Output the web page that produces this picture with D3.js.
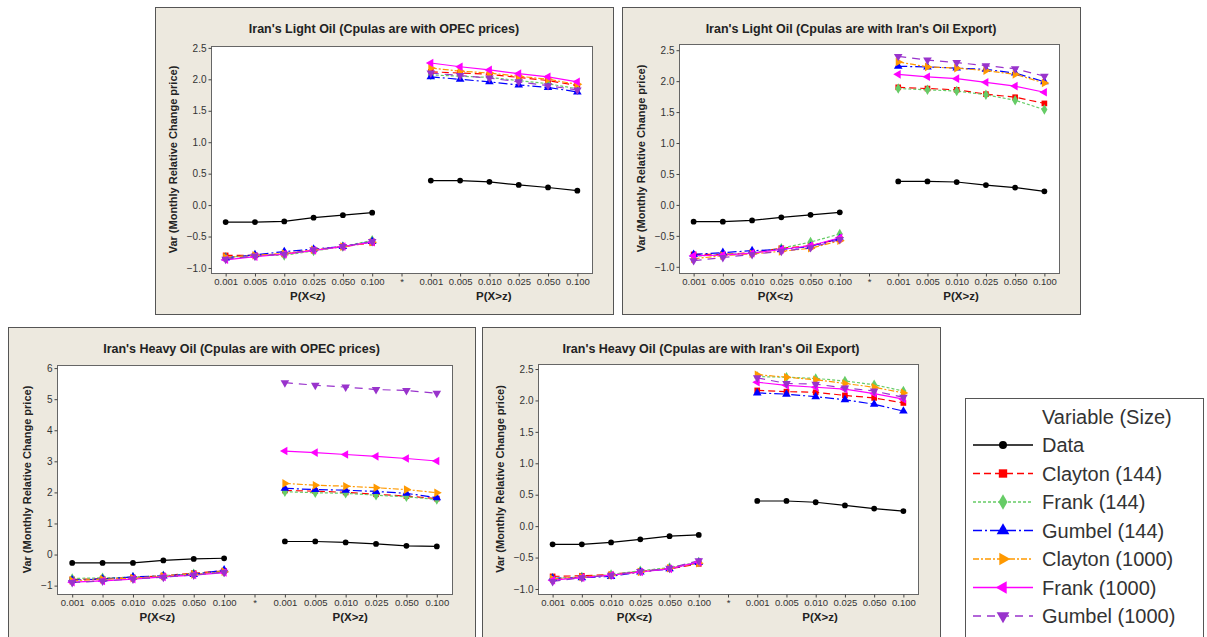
<!DOCTYPE html>
<html>
<head>
<meta charset="utf-8">
<script src="https://cdn.jsdelivr.net/npm/d3@7"></script>
<style>
body { margin: 0; background: #fff; }
svg { display: block; font-family: "Liberation Sans", Arial, sans-serif; }
</style>
</head>
<body>
<svg width="1207" height="637"></svg>
<script>
var seriesNames = ["Data", "Clayton (144)", "Frank (144)", "Gumbel (144)", "Clayton (1000)", "Frank (1000)", "Gumbel (1000)"];
var seriesColors = ["#000000", "#ff0000", "#66cc66", "#0000ff", "#ff9900", "#ff00ff", "#9933cc"];
var seriesDash = [null, "7,4", "3,2", "9,3,2,3", "6,2,2,2", null, "8,6"];
var seriesShape = ["circle", "square", "diamond", "up", "right", "left", "down"];

// 13 slots: P(X<z) levels, the "*" gap, then P(X>z) levels
var xTicks = ["0.001", "0.005", "0.010", "0.025", "0.050", "0.100", "*", "0.001", "0.005", "0.010", "0.025", "0.050", "0.100"];

// one row per series (same order as seriesNames), null at the "*" slot
var lightOpec = [
  [-0.27, -0.27, -0.26, -0.20, -0.16, -0.12, null, 0.39, 0.39, 0.37, 0.32, 0.28, 0.23],
  [-0.80, -0.80, -0.78, -0.72, -0.66, -0.60, null, 2.12, 2.10, 2.08, 2.03, 1.98, 1.90],
  [-0.83, -0.80, -0.80, -0.73, -0.66, -0.56, null, 2.07, 2.05, 2.03, 1.98, 1.93, 1.85],
  [-0.84, -0.79, -0.74, -0.70, -0.66, -0.58, null, 2.04, 2.00, 1.96, 1.91, 1.87, 1.80],
  [-0.83, -0.80, -0.77, -0.71, -0.66, -0.59, null, 2.18, 2.13, 2.10, 2.05, 2.00, 1.92],
  [-0.87, -0.82, -0.78, -0.72, -0.66, -0.59, null, 2.26, 2.20, 2.15, 2.09, 2.04, 1.96],
  [-0.86, -0.81, -0.78, -0.71, -0.66, -0.58, null, 2.10, 2.06, 2.02, 1.96, 1.90, 1.83]
];
var lightExport = [
  [-0.27, -0.27, -0.25, -0.20, -0.16, -0.12, null, 0.38, 0.38, 0.37, 0.32, 0.28, 0.22],
  [-0.80, -0.80, -0.77, -0.70, -0.66, -0.55, null, 1.90, 1.88, 1.86, 1.79, 1.74, 1.64],
  [-0.83, -0.80, -0.78, -0.70, -0.60, -0.47, null, 1.88, 1.86, 1.84, 1.78, 1.69, 1.54],
  [-0.80, -0.77, -0.74, -0.72, -0.67, -0.54, null, 2.24, 2.23, 2.21, 2.19, 2.13, 1.99],
  [-0.87, -0.82, -0.79, -0.75, -0.70, -0.58, null, 2.31, 2.23, 2.21, 2.17, 2.11, 1.97],
  [-0.82, -0.81, -0.78, -0.72, -0.66, -0.53, null, 2.11, 2.07, 2.04, 1.98, 1.92, 1.82],
  [-0.90, -0.85, -0.80, -0.75, -0.69, -0.56, null, 2.40, 2.34, 2.30, 2.25, 2.20, 2.08]
];
var heavyOpec = [
  [-0.27, -0.27, -0.27, -0.19, -0.14, -0.12, null, 0.42, 0.42, 0.39, 0.34, 0.28, 0.26],
  [-0.80, -0.78, -0.74, -0.68, -0.60, -0.53, null, 2.06, 2.04, 2.00, 1.94, 1.88, 1.80],
  [-0.77, -0.75, -0.73, -0.68, -0.62, -0.55, null, 2.02, 1.99, 1.97, 1.91, 1.86, 1.77],
  [-0.82, -0.79, -0.72, -0.69, -0.64, -0.50, null, 2.13, 2.09, 2.07, 2.03, 1.97, 1.83],
  [-0.84, -0.80, -0.76, -0.70, -0.64, -0.55, null, 2.29, 2.23, 2.20, 2.15, 2.09, 1.99],
  [-0.89, -0.85, -0.79, -0.72, -0.66, -0.58, null, 3.33, 3.28, 3.22, 3.16, 3.09, 3.01],
  [-0.90, -0.85, -0.79, -0.73, -0.66, -0.57, null, 5.53, 5.45, 5.39, 5.31, 5.28, 5.19]
];
var heavyExport = [
  [-0.29, -0.29, -0.26, -0.21, -0.16, -0.14, null, 0.40, 0.40, 0.38, 0.33, 0.28, 0.24],
  [-0.80, -0.79, -0.77, -0.72, -0.68, -0.60, null, 2.16, 2.14, 2.13, 2.08, 2.04, 1.96],
  [-0.83, -0.81, -0.77, -0.71, -0.66, -0.57, null, 2.38, 2.37, 2.35, 2.31, 2.25, 2.15],
  [-0.83, -0.82, -0.80, -0.73, -0.68, -0.58, null, 2.12, 2.10, 2.06, 2.01, 1.94, 1.83],
  [-0.84, -0.81, -0.78, -0.73, -0.67, -0.59, null, 2.41, 2.37, 2.33, 2.27, 2.21, 2.12],
  [-0.86, -0.82, -0.78, -0.73, -0.68, -0.57, null, 2.29, 2.24, 2.21, 2.18, 2.11, 2.02],
  [-0.88, -0.82, -0.78, -0.72, -0.67, -0.55, null, 2.36, 2.27, 2.26, 2.20, 2.15, 2.05]
];

var halfTicks = [-1, -0.5, 0, 0.5, 1, 1.5, 2, 2.5];
var unitTicks = [-1, 0, 1, 2, 3, 4, 5, 6];

// box runs past the page bottom for the lower panels (they are cut off there)
var panels = [
  {title: "Iran's Light Oil (Cpulas are with OPEC prices)", data: lightOpec,
   box: [155, 7, 613, 314], plot: [211, 46, 592, 273], dom: [-1.08, 2.53], ticks: halfTicks, fmt: ".1f", yt: 38},
  {title: "Iran's Light Oil (Cpulas are with Iran's Oil Export)", data: lightExport,
   box: [622, 7, 1080, 314], plot: [679, 44, 1059, 273], dom: [-1.10, 2.60], ticks: halfTicks, fmt: ".1f", yt: 38},
  {title: "Iran's Heavy Oil (Cpulas are with OPEC prices)", data: heavyOpec,
   box: [8, 327, 475, 645], plot: [57, 365, 452, 594], dom: [-1.27, 6.10], ticks: unitTicks, fmt: "d", yt: 30},
  {title: "Iran's Heavy Oil (Cpulas are with Iran's Oil Export)", data: heavyExport,
   box: [482, 327, 940, 645], plot: [538, 364, 918, 594], dom: [-1.08, 2.58], ticks: halfTicks, fmt: ".1f", yt: 38}
];

var svg = d3.select("svg");

function shapePath(shape, size) {
  var type = {circle: d3.symbolCircle, square: d3.symbolSquare, diamond: d3.symbolDiamond}[shape] || d3.symbolTriangle;
  return d3.symbol().type(type).size(size)();
}
function shapeRotate(shape) {
  return {right: 90, left: -90, down: 180}[shape] || 0;
}

panels.forEach(function(p) {
  var g = svg.append("g");
  var b = p.box;
  g.append("rect")
    .attr("x", b[0] + 0.5).attr("y", b[1] + 0.5)
    .attr("width", b[2] - b[0]).attr("height", b[3] - b[1])
    .attr("fill", "#ede9df").attr("stroke", "#555");

  var x = d3.scalePoint()
    .domain(d3.range(xTicks.length))
    .range([p.plot[0], p.plot[2]])
    .padding(0.5);
  var y = d3.scaleLinear()
    .domain(p.dom)
    .range([p.plot[3], p.plot[1]]);

  g.append("rect")
    .attr("x", p.plot[0] + 0.5).attr("y", p.plot[1] + 0.5)
    .attr("width", p.plot[2] - p.plot[0]).attr("height", p.plot[3] - p.plot[1])
    .attr("fill", "#fff").attr("stroke", "#666");

  var xAxis = d3.axisBottom(x).tickSize(3).tickPadding(2)
    .tickFormat(function(i) { return xTicks[i]; });
  var yAxis = d3.axisLeft(y).tickValues(p.ticks).tickSize(3).tickPadding(2)
    .tickFormat(d3.format(p.fmt));

  g.append("g")
    .attr("transform", "translate(0," + (p.plot[3] + 0.5) + ")")
    .call(xAxis)
    .call(function(a) {
      a.select(".domain").remove();
      a.selectAll(".tick line").attr("stroke", "#444");
      a.selectAll(".tick text").attr("font-size", 9.5).attr("fill", "#333")
        .attr("font-family", "Liberation Sans, Arial, sans-serif");
    });
  g.append("g")
    .attr("transform", "translate(" + (p.plot[0] + 0.5) + ",0)")
    .call(yAxis)
    .call(function(a) {
      a.select(".domain").remove();
      a.selectAll(".tick line").attr("stroke", "#444");
      a.selectAll(".tick text").attr("font-size", 10).attr("fill", "#333")
        .attr("font-family", "Liberation Sans, Arial, sans-serif");
    });

  g.append("text")
    .attr("x", (b[0] + b[2]) / 2).attr("y", b[1] + 26)
    .attr("text-anchor", "middle").attr("font-weight", "bold").attr("font-size", 12.5)
    .attr("fill", "#222")
    .text(p.title);

  g.append("text")
    .attr("x", x(0) + (x(1) - x(0)) * 2.8).attr("y", p.plot[3] + 27)
    .attr("text-anchor", "middle").attr("font-weight", "bold").attr("font-size", 11.5)
    .attr("fill", "#222").text("P(X<z)");
  g.append("text")
    .attr("x", x(0) + (x(1) - x(0)) * 9.15).attr("y", p.plot[3] + 27)
    .attr("text-anchor", "middle").attr("font-weight", "bold").attr("font-size", 11.5)
    .attr("fill", "#222").text("P(X>z)");

  g.append("text")
    .attr("transform", "translate(" + (p.plot[0] - p.yt + 4) + "," + ((p.plot[1] + p.plot[3]) / 2) + ") rotate(-90)")
    .attr("text-anchor", "middle").attr("font-weight", "bold").attr("font-size", 11)
    .attr("fill", "#222").text("Var (Monthly Relative Change price)");

  var line = d3.line()
    .defined(function(d) { return d != null; })
    .x(function(d, i) { return x(i); })
    .y(function(d) { return y(d); });

  p.data.forEach(function(row, s) {
    g.append("path")
      .attr("d", line(row))
      .attr("fill", "none")
      .attr("stroke", seriesColors[s])
      .attr("stroke-width", 1.2)
      .attr("stroke-dasharray", seriesDash[s]);
  });
  p.data.forEach(function(row, s) {
    g.selectAll(null)
      .data(row.map(function(v, i) { return {v: v, i: i}; }).filter(function(d) { return d.v != null; }))
      .enter().append("path")
      .attr("d", shapePath(seriesShape[s], s === 0 ? 26 : 32))
      .attr("transform", function(d) {
        return "translate(" + x(d.i) + "," + y(d.v) + ") rotate(" + shapeRotate(seriesShape[s]) + ")";
      })
      .attr("fill", seriesColors[s]);
  });
});

// legend
var lg = svg.append("g");
lg.append("rect")
  .attr("x", 965.5).attr("y", 398.5).attr("width", 238).attr("height", 245)
  .attr("fill", "#fff").attr("stroke", "#555");
lg.append("text")
  .attr("x", 1042).attr("y", 424)
  .attr("font-size", 20).attr("fill", "#333").text("Variable (Size)");
seriesNames.forEach(function(name, s) {
  var cy = 445 + s * 28.5;
  lg.append("line")
    .attr("x1", 973).attr("x2", 1033).attr("y1", cy).attr("y2", cy)
    .attr("stroke", seriesColors[s]).attr("stroke-width", 1.5)
    .attr("stroke-dasharray", seriesDash[s]);
  lg.append("path")
    .attr("d", shapePath(seriesShape[s], s === 0 ? 50 : 70))
    .attr("transform", "translate(1003," + cy + ") rotate(" + shapeRotate(seriesShape[s]) + ")")
    .attr("fill", seriesColors[s]);
  lg.append("text")
    .attr("x", 1042).attr("y", cy + 7)
    .attr("font-size", 20).attr("fill", "#333").text(name);
});
</script>
</body>
</html>
